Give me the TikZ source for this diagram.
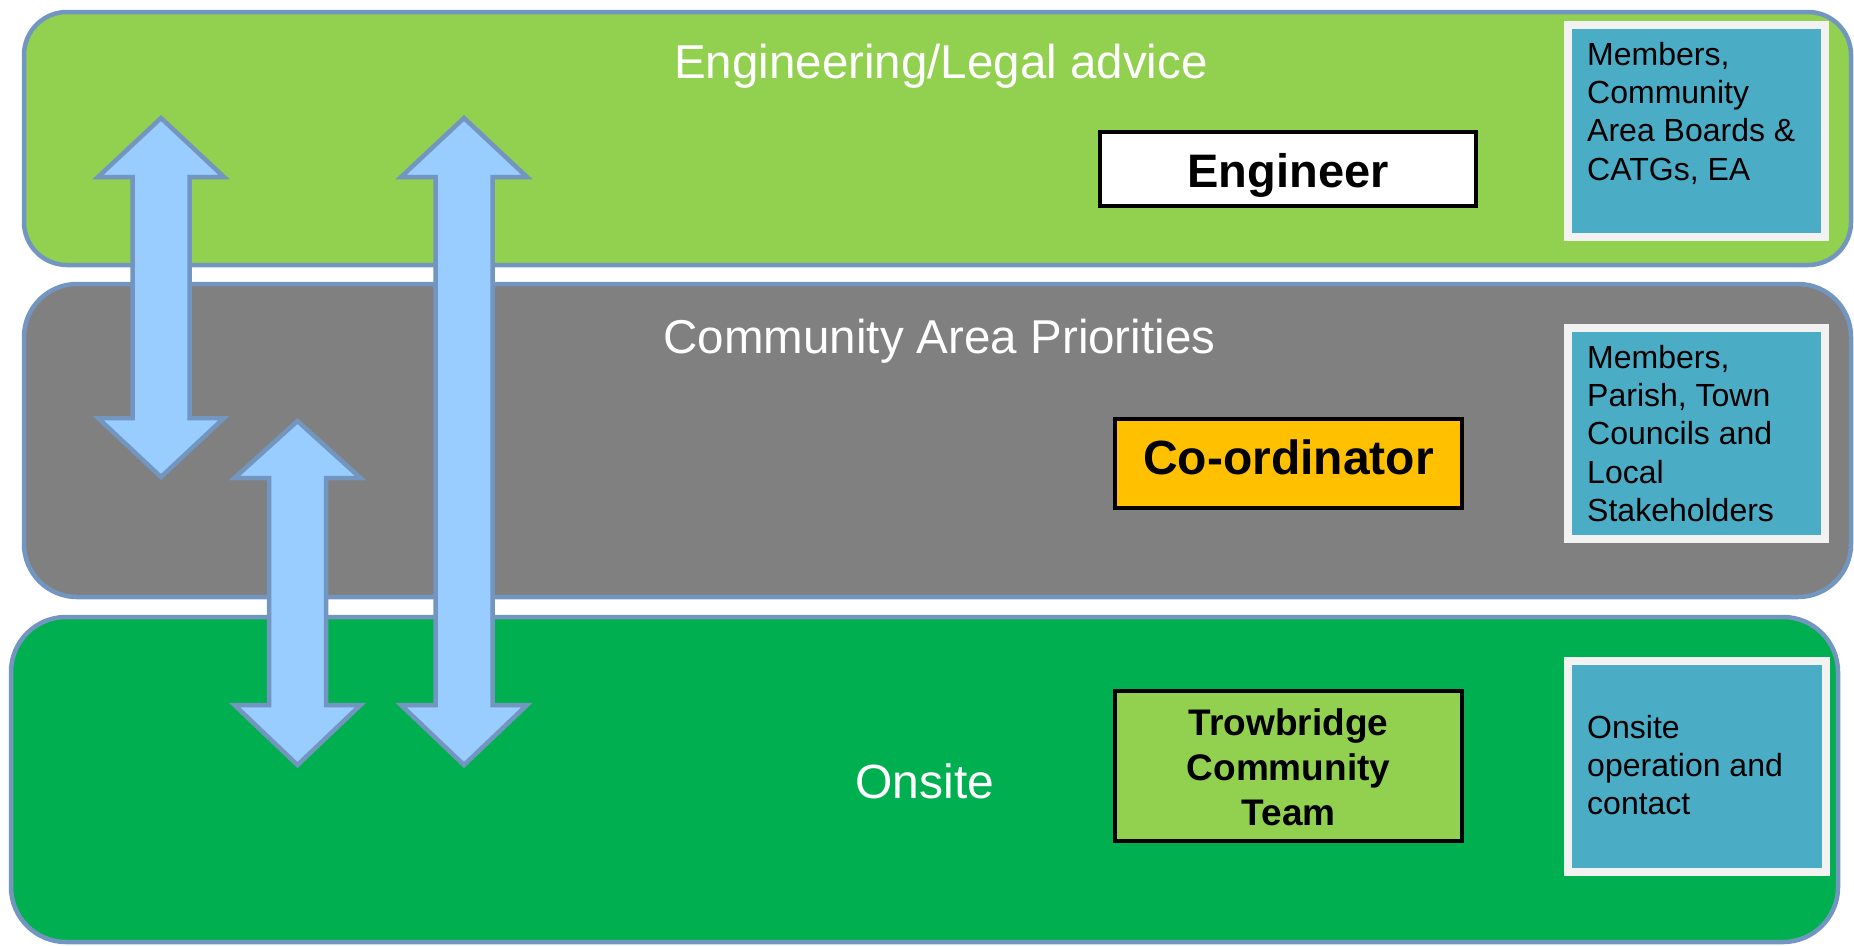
\documentclass[tikz,border=0pt]{standalone}
\usepackage{fontspec}
\setmainfont{Liberation Sans}
\definecolor{bandedge}{RGB}{114,150,192}
\definecolor{bandone}{RGB}{146,208,80}
\definecolor{bandtwo}{RGB}{128,128,128}
\definecolor{bandthree}{RGB}{0,176,80}
\definecolor{arrowfill}{RGB}{153,204,255}
\definecolor{infofill}{RGB}{75,172,198}
\definecolor{infoedge}{RGB}{242,242,242}
\definecolor{coordfill}{RGB}{255,192,0}
\tikzset{
  band/.style={draw=bandedge, line width=4.5pt},
  blockarrow/.style={draw=bandedge, fill=arrowfill, line width=4.5pt},
  infobox/.style={fill=infofill, draw=infoedge, line width=8pt, inner sep=0pt},
  rolebox/.style={draw=black, line width=4pt, inner sep=0pt},
  bandlabel/.style={text=white, inner sep=0pt, anchor=base, font=\fontsize{47.5}{56}\selectfont},
  roletext/.style={text=black, inner sep=0pt, anchor=base, font=\bfseries\fontsize{47}{56}\selectfont},
  infotext/.style={text=black, inner sep=0pt, anchor=base west, font=\fontsize{32}{38.4}\selectfont}
}
\begin{document}
\begin{tikzpicture}[x=1pt, y=-1pt]
\useasboundingbox (0,0) rectangle (1854,945);
\clip (0,0) rectangle (1854,945);
% bands
\draw[band, rounded corners=43pt, fill=bandone] (24,12) rectangle (1851,265);
\draw[band, rounded corners=53pt, fill=bandtwo] (24,284) rectangle (1851,597);
\draw[band, rounded corners=55pt, fill=bandthree] (11,617) rectangle (1838,942);
% band labels
\node[bandlabel] (lab1) at (941,78) {Engineering/Legal advice};
\node[bandlabel] (lab2) at (939.5,353) {Community Area Priorities};
\node[bandlabel, font=\fontsize{48}{57}\selectfont] (lab3) at (925,798) {Onsite};
% block arrows
\def\arrowshape#1#2#3#4#5{%
  \draw[blockarrow] (#1,#2) -- ({#1+63},#3) -- ({#1+28.5},#3) -- ({#1+28.5},#4) -- ({#1+63},#4)
    -- (#1,#5) -- ({#1-63},#4) -- ({#1-28.5},#4) -- ({#1-28.5},#3) -- ({#1-63},#3) -- cycle;}
\arrowshape{161}{118}{177}{418}{477}
\arrowshape{464}{118}{177}{705}{765}
\arrowshape{297.5}{421}{478}{705}{765}
% role boxes
\node[rolebox, fill=white, minimum width=376pt, minimum height=74pt] (engbox) at (1288,169) {};
\node[roletext] (engtext) at (1288,187) {Engineer};
\node[rolebox, fill=coordfill, minimum width=347pt, minimum height=89pt] (cobox) at (1288.5,463.5) {};
\node[roletext, font=\bfseries\fontsize{48}{56}\selectfont] (cotext) at (1288.5,474) {Co-ordinator};
\node[rolebox, fill=bandone, minimum width=347pt, minimum height=150pt] (tctbox) at (1288.5,766) {};
\node[roletext, font=\bfseries\fontsize{37}{45}\selectfont] (tcttext) at (1288.5,735)
  {\begin{tabular}[t]{@{}c@{}}Trowbridge\\Community\\Team\end{tabular}};
% info boxes
\node[infobox, minimum width=257pt, minimum height=212pt] (info1) at (1696.5,131) {};
\node[infotext] (info1text) at (1587,65)
  {\begin{tabular}[t]{@{}l@{}}Members,\\Community\\Area Boards \&\\CATGs, EA\end{tabular}};
\node[infobox, minimum width=257pt, minimum height=211pt] (info2) at (1696.5,433.5) {};
\node[infotext] (info2text) at (1587,368)
  {\begin{tabular}[t]{@{}l@{}}Members,\\Parish, Town\\Councils and\\Local\\Stakeholders\end{tabular}};
\node[infobox, minimum width=258pt, minimum height=211pt] (info3) at (1697,766.5) {};
\node[infotext] (info3text) at (1587,738)
  {\begin{tabular}[t]{@{}l@{}}Onsite\\operation and\\contact\end{tabular}};
\end{tikzpicture}
\end{document}
